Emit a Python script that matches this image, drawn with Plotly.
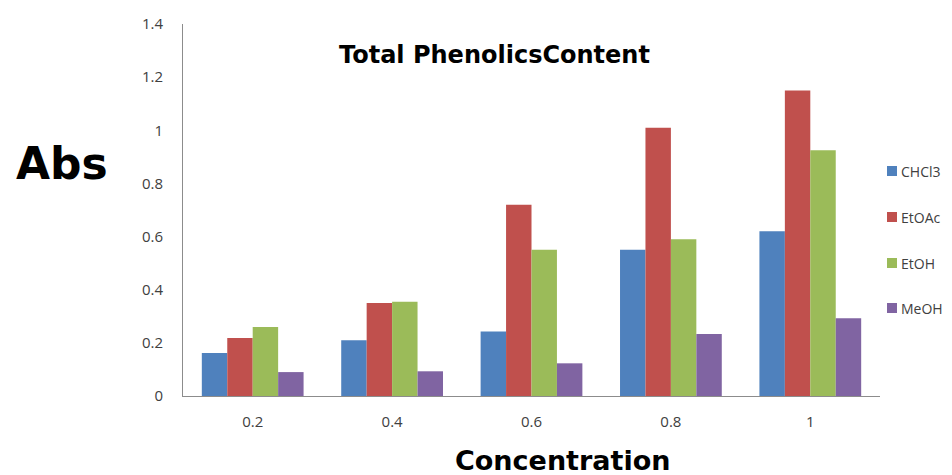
import plotly.graph_objects as go

categories = ["0.2", "0.4", "0.6", "0.8", "1"]
chcl3 = [0.162, 0.21, 0.243, 0.55, 0.62]
etoac = [0.218, 0.35, 0.72, 1.01, 1.15]
etoh = [0.26, 0.355, 0.55, 0.59, 0.925]
meoh = [0.09, 0.093, 0.123, 0.233, 0.293]
series_names = ["CHCl3", "EtOAc", "EtOH", "MeOH"]
series_values = [chcl3, etoac, etoh, meoh]
colors = ["#4F81BD", "#C0504D", "#9BBB59", "#8064A2"]

fig = go.Figure()
for name, vals, col in zip(series_names, series_values, colors):
    fig.add_trace(go.Bar(x=categories, y=vals, name=name,
                         marker=dict(color=col, line=dict(width=0))))

# page has an 8px body margin: figure is drawn at page offset (8, 8)
OFF = 8
W, H = 952 - OFF, 475 - OFF
PL, PR, PT, PB = 183, 880, 24, 396  # plot area in page pixels
L, T = PL - OFF, PT - OFF
R, B = W - (PR - OFF), H - (PB - OFF)
PW, PH = PR - PL, PB - PT

def px(x):
    return (x - PL) / PW

def py(y):
    return (PB - y) / PH

fig.update_layout(
    width=W, height=H,
    margin=dict(l=L, r=R, t=T, b=B, autoexpand=False),
    paper_bgcolor="white", plot_bgcolor="white",
    barmode="group", bargap=0.27, bargroupgap=0,
    font=dict(family="Open Sans", size=15, color="#404040"),
    showlegend=False,
    xaxis=dict(type="category", showline=True, linecolor="#8c8c8c", linewidth=1,
               showgrid=False, ticks="", ticklabelstandoff=12,
               tickfont=dict(size=15)),
    yaxis=dict(range=[0, 1.4], dtick=0.2, showline=True, linecolor="#8c8c8c",
               linewidth=1, showgrid=False, zeroline=False, ticks="",
               ticklabelstandoff=16, tickformat="~g", tickfont=dict(size=15)),
)

# legend (manual, to match the compact swatch/text spacing)
legend_rows = [171, 217, 263, 308]
for name, col, yc in zip(series_names, colors, legend_rows):
    fig.add_shape(type="rect", xref="paper", yref="paper",
                  x0=px(887), x1=px(897), y0=py(yc + 5), y1=py(yc - 5),
                  fillcolor=col, line=dict(width=0))
    fig.add_annotation(text=name, xref="paper", yref="paper",
                       x=px(899), y=py(yc), xanchor="left", yanchor="middle",
                       showarrow=False, font=dict(size=14, color="#404040"))

fig.add_annotation(text="<b>Total PhenolicsContent</b>", xref="paper", yref="paper",
                   x=px(494), y=py(55), xanchor="center", yanchor="middle",
                   showarrow=False, font=dict(family="DejaVu Sans", size=24, color="black"))
fig.add_annotation(text="<b>Abs</b>", xref="paper", yref="paper",
                   x=px(62), y=py(163), xanchor="center", yanchor="middle",
                   showarrow=False, font=dict(family="DejaVu Sans", size=44, color="black"))
fig.add_annotation(text="<b>Concentration</b>", xref="paper", yref="paper",
                   x=px(563), y=py(460), xanchor="center", yanchor="middle",
                   showarrow=False, font=dict(family="DejaVu Sans", size=27, color="black"))

fig.write_html("out.html")
